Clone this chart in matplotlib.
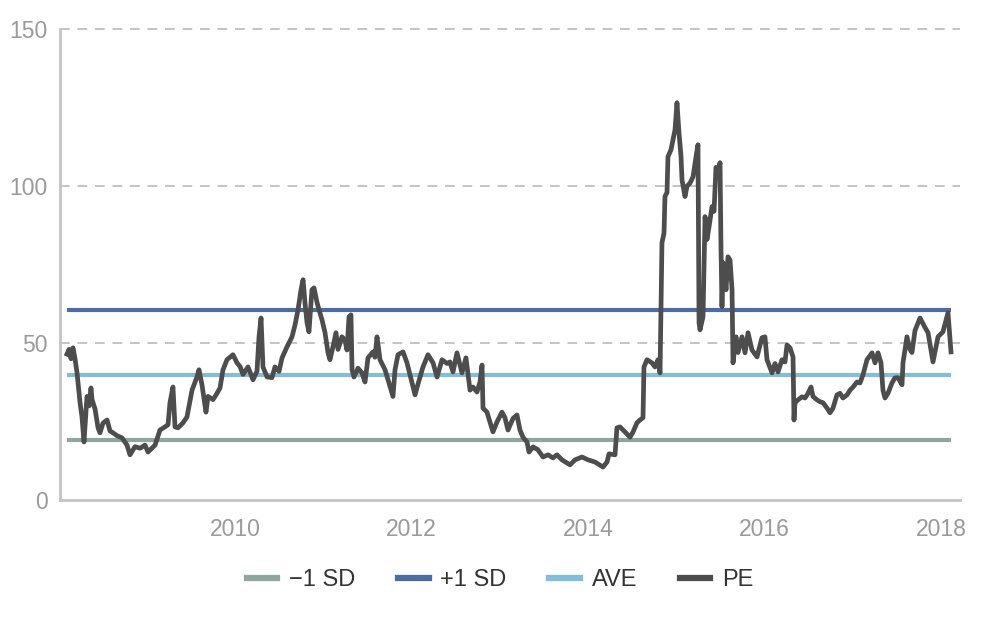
import matplotlib
matplotlib.use("Agg")
import matplotlib.pyplot as plt
from matplotlib.lines import Line2D

# ---------------- data ----------------
pe_dates = [
    2008.096, 2008.119, 2008.142, 2008.164, 2008.187, 2008.210, 2008.244, 2008.266, 2008.289, 2008.323,
    2008.346, 2008.368, 2008.380, 2008.414, 2008.448, 2008.470, 2008.504, 2008.550, 2008.584, 2008.618,
    2008.663, 2008.720, 2008.776, 2008.810, 2008.867, 2008.924, 2008.980, 2009.014, 2009.094, 2009.150,
    2009.207, 2009.241, 2009.263, 2009.297, 2009.320, 2009.354, 2009.411, 2009.456, 2009.513, 2009.569,
    2009.592, 2009.626, 2009.671, 2009.694, 2009.751, 2009.796, 2009.830, 2009.864, 2009.909, 2009.977,
    2010.023, 2010.057,
    2010.091, 2010.147, 2010.204, 2010.249, 2010.272, 2010.295, 2010.317, 2010.363, 2010.419, 2010.453,
    2010.499, 2010.533, 2010.589, 2010.646, 2010.680, 2010.714, 2010.748, 2010.771, 2010.793, 2010.816,
    2010.838, 2010.872, 2010.895, 2010.929, 2010.952, 2010.986, 2011.020, 2011.054, 2011.076, 2011.110,
    2011.144, 2011.167, 2011.212, 2011.246, 2011.269, 2011.292, 2011.314, 2011.326, 2011.348, 2011.394,
    2011.439, 2011.473, 2011.507, 2011.564, 2011.586, 2011.609, 2011.643, 2011.700, 2011.745, 2011.790,
    2011.813, 2011.847, 2011.904,
    2011.949, 2012.006, 2012.040, 2012.074, 2012.130, 2012.187, 2012.244, 2012.289, 2012.346, 2012.402,
    2012.436, 2012.470, 2012.515, 2012.572, 2012.617, 2012.663, 2012.697, 2012.742, 2012.776, 2012.799,
    2012.810, 2012.855, 2012.889, 2012.923, 2012.969, 2013.025, 2013.059, 2013.093, 2013.150, 2013.195,
    2013.229, 2013.263, 2013.309, 2013.331, 2013.377, 2013.433, 2013.490, 2013.547, 2013.603, 2013.649,
    2013.705, 2013.762, 2013.796,
    2013.853, 2013.932, 2014.000, 2014.079, 2014.170, 2014.215, 2014.238, 2014.306, 2014.328, 2014.362,
    2014.419, 2014.476, 2014.510, 2014.555, 2014.589, 2014.623, 2014.634, 2014.668, 2014.725, 2014.759,
    2014.793, 2014.816,
    2014.838, 2014.861, 2014.872, 2014.895, 2014.906, 2014.940, 2014.963, 2014.986, 2015.008, 2015.031,
    2015.054, 2015.065, 2015.099, 2015.122, 2015.156, 2015.190, 2015.224, 2015.246, 2015.258, 2015.269,
    2015.303, 2015.326, 2015.348, 2015.371, 2015.405, 2015.428, 2015.450, 2015.473, 2015.496, 2015.507,
    2015.518, 2015.530, 2015.564, 2015.586, 2015.609, 2015.632, 2015.643, 2015.677, 2015.700, 2015.745,
    2015.779, 2015.813, 2015.858, 2015.915,
    2015.971, 2016.005, 2016.028, 2016.085, 2016.119, 2016.153, 2016.198, 2016.232, 2016.255, 2016.289,
    2016.323, 2016.334, 2016.345, 2016.379, 2016.425, 2016.459, 2016.493, 2016.527, 2016.549, 2016.595,
    2016.629, 2016.663, 2016.708, 2016.742, 2016.776, 2016.821, 2016.855, 2016.889, 2016.935, 2016.969,
    2017.003, 2017.048, 2017.082, 2017.116, 2017.161, 2017.218, 2017.252, 2017.286, 2017.320, 2017.342,
    2017.365, 2017.399, 2017.444, 2017.478, 2017.512, 2017.558, 2017.569, 2017.614, 2017.648, 2017.671,
    2017.705, 2017.762, 2017.818, 2017.853, 2017.909, 2017.966, 2018.022, 2018.079, 2018.113,
]
pe_values = [
    46.5, 48.0, 45.0, 48.5, 45.0, 40.5, 31.0, 26.5, 18.5, 33.0,
    30.0, 35.7, 32.0, 29.0, 23.0, 21.4, 24.5, 25.5, 22.0, 21.4,
    20.5, 19.8, 17.5, 14.4, 17.0, 16.5, 17.5, 15.3, 17.5, 22.3,
    23.3, 24.0, 31.0, 36.0, 23.3, 23.0, 24.6, 26.5, 35.0, 39.2,
    41.5, 36.7, 28.0, 33.0, 32.0, 34.0, 35.7, 41.5, 44.7, 46.3,
    43.7, 42.5,
    40.0, 42.4, 38.3, 41.0, 52.0, 58.0, 42.4, 39.2, 39.0, 42.4,
    41.0, 45.3, 48.8, 52.0, 55.8, 60.6, 67.0, 70.2, 62.8, 56.5,
    53.6, 67.0, 67.6, 63.0, 60.6, 57.4, 53.3, 46.9, 44.7, 48.8,
    53.3, 48.0, 52.0, 51.0, 47.8, 58.4, 59.0, 41.5, 39.2, 42.0,
    40.5, 37.6, 45.3, 47.2, 45.5, 52.0, 44.7, 41.5, 37.3, 33.0,
    41.5, 46.3, 47.2,
    43.7, 37.3, 33.5, 37.0, 42.4, 46.3, 43.7, 39.2, 44.7, 43.5,
    44.0, 40.8, 46.9, 40.5, 45.3, 35.0, 36.0, 34.4, 37.6, 43.0,
    29.3, 28.0, 24.9, 21.7, 24.9, 28.0, 26.2, 22.3, 26.0, 27.1,
    22.3, 20.0, 18.5, 15.3, 16.9, 16.0, 13.7, 14.4, 13.4, 14.4,
    12.8, 11.8, 11.2,
    12.8, 13.7, 12.8, 12.1, 10.5, 12.1, 14.7, 14.4, 23.0, 23.3,
    21.7, 20.0, 21.7, 24.6, 25.5, 26.2, 42.4, 44.7, 43.7, 42.4,
    44.7, 40.5,
    82.0, 85.0, 96.7, 98.0, 109.4, 111.6, 114.8, 118.0, 126.6, 117.0,
    109.4, 102.0, 96.7, 100.0, 101.0, 103.0, 109.4, 113.2, 56.5, 54.2,
    58.4, 90.3, 83.0, 87.0, 93.5, 92.0, 106.0, 104.0, 107.5, 79.7,
    61.6, 75.6, 67.0, 77.5, 76.5, 67.0, 43.7, 52.0, 47.0, 52.0,
    46.9, 53.3, 47.8, 45.6,
    51.7, 52.0, 44.7, 40.5, 43.5, 40.8, 44.7, 44.0, 49.4, 48.5,
    45.6, 25.5, 31.0, 31.9, 32.9, 32.5, 34.0, 36.0, 33.0, 31.9,
    31.3, 31.0, 29.3, 27.8, 29.3, 33.5, 34.0, 32.5, 33.5, 35.0,
    36.0, 37.6, 37.3, 39.9, 44.7, 46.9, 43.7, 46.9, 43.7, 35.0,
    32.5, 34.0, 37.3, 38.9, 39.0, 36.7, 43.7, 52.0, 48.0, 47.0,
    54.0, 58.0, 55.0, 53.3, 44.0, 52.0, 53.6, 59.7, 47.2,
]
minus_sd = 19.2
plus_sd = 60.7
average = 39.9

y_ticks = [0, 50, 100, 150]
x_ticks = [2010, 2012, 2014, 2016, 2018]
x_tick_labels = ["2010", "2012", "2014", "2016", "2018"]
series_labels = ["\u22121 SD", "+1 SD", "AVE", "PE"]

# ---------------- style ----------------
col_minus = "#8FA69C"
col_plus = "#4A6EA3"
col_ave = "#80BEDB"
col_pe = "#4D4D4D"
grid_col = "#C4C4C4"
tick_col = "#9A9A9A"
font = ["Liberation Sans", "DejaVu Sans"]
plt.rcParams["font.family"] = font

fig = plt.figure(figsize=(10, 6.4), dpi=100)
ax = fig.add_axes([0.06, 0.21875, 0.90, 0.7355])

x0, x1 = pe_dates[0], pe_dates[-1]
ax.plot([x0, x1], [minus_sd, minus_sd], color=col_minus, lw=3.0, solid_capstyle="butt", zorder=2)
ax.plot([x0, x1], [plus_sd, plus_sd], color=col_plus, lw=3.0, solid_capstyle="butt", zorder=2)
ax.plot([x0, x1], [average, average], color=col_ave, lw=3.0, solid_capstyle="butt", zorder=2)
ax.plot(pe_dates, pe_values, color=col_pe, lw=3.4, solid_joinstyle="round", zorder=3)

ax.set_xlim(2008.017, 2018.215)
ax.set_ylim(0, 150)
ax.set_yticks(y_ticks)
ax.set_xticks(x_ticks)
ax.set_xticklabels(x_tick_labels)

for yv in y_ticks[1:]:
    ax.axhline(yv, color=grid_col, lw=1.4, ls=(0, (5, 4)), zorder=1, clip_on=False)

for s in ["top", "right"]:
    ax.spines[s].set_visible(False)
for s in ["left", "bottom"]:
    ax.spines[s].set_color(grid_col)
    ax.spines[s].set_linewidth(2.0)

ax.tick_params(axis="both", length=0, labelcolor=tick_col, labelsize=16.5)
ax.tick_params(axis="x", pad=13)
ax.tick_params(axis="y", pad=9)

handles = [
    Line2D([], [], color=col_minus, lw=4.5),
    Line2D([], [], color=col_plus, lw=4.5),
    Line2D([], [], color=col_ave, lw=4.5),
    Line2D([], [], color=col_pe, lw=4.5),
]
leg = fig.legend(handles, series_labels, loc="center", bbox_to_anchor=(0.5, 1 - 580 / 640),
                 ncol=4, frameon=False, fontsize=17, handlelength=1.3, handletextpad=0.5,
                 columnspacing=1.8)
for t in leg.get_texts():
    t.set_color("#333333")

fig.savefig("out.png", dpi=100, facecolor="white")
